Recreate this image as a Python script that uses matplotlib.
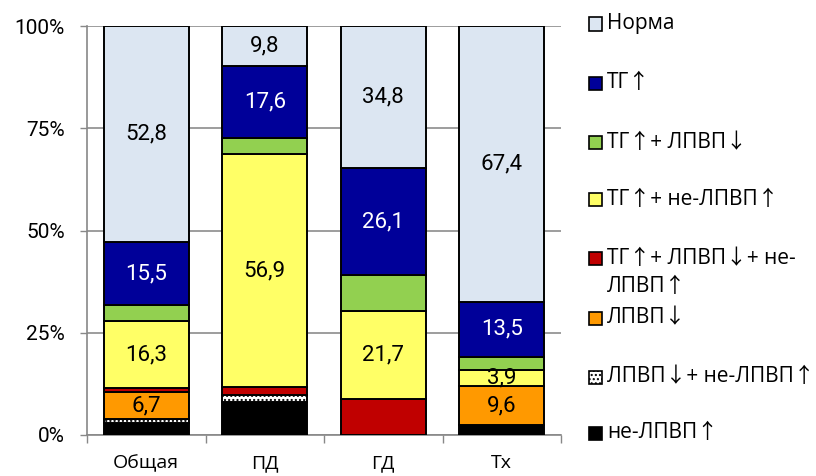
import numpy as np
from matplotlib import pyplot as plt
from matplotlib.patches import Rectangle

plt.rcParams['font.family'] = ['Roboto', 'DejaVu Sans']

categories = ["Общая", "ПД", "ГД", "Тх"]

# series from bottom to top, values in %
series_names = ["не-ЛПВП↑", "ЛПВП↓+ не-ЛПВП↑", "ЛПВП↓", "ТГ↑+ ЛПВП↓+ не-\nЛПВП↑",
                "ТГ↑+ не-ЛПВП↑", "ТГ↑+ ЛПВП↓", "ТГ↑", "Норма"]
ne_lpvp = [3.0, 8.0, 0.0, 2.4]
lpvp_ne_lpvp = [0.8, 1.7, 0.0, 0.0]
lpvp = [6.7, 0.0, 0.0, 9.6]
tg_lpvp_ne = [1.0, 2.0, 8.7, 0.0]
tg_ne_lpvp = [16.3, 56.9, 21.7, 3.9]
tg_lpvp = [3.9, 4.0, 8.7, 3.2]
tg = [15.5, 17.6, 26.1, 13.5]
norma = [52.8, 9.8, 34.8, 67.4]

series_values = [ne_lpvp, lpvp_ne_lpvp, lpvp, tg_lpvp_ne, tg_ne_lpvp, tg_lpvp, tg, norma]
colors = ['#000000', '#FFFFFF', '#FF9900', '#C00000', '#FFFF66', '#92D050', '#000099', '#DCE6F2']
hatches = [None, '....', None, None, None, None, None, None]
labelled = [False, False, True, False, True, False, True, True]
label_colors = ['k', 'k', 'k', 'k', 'k', 'k', 'white', 'k']

fig = plt.figure(figsize=(8.16, 4.76), dpi=100)
ax = fig.add_axes([87 / 816, 41 / 476, 474 / 816, 409 / 476])

x = np.arange(len(categories))
bottom = np.zeros(len(categories))
for vals, col, hat, lab, lcol in zip(series_values, colors, hatches, labelled, label_colors):
    vals = np.array(vals)
    ax.bar(x, vals, width=0.72, bottom=bottom, color=col, edgecolor='black',
           linewidth=1.4, hatch=hat, zorder=3)
    if lab:
        for xi, b, v in zip(x, bottom, vals):
            if v > 0:
                ax.text(xi, b + v / 2, f"{v:.1f}".replace('.', ','), ha='center', va='center',
                        fontsize=16, color=lcol, zorder=4)
    bottom += vals

ax.set_xlim(-0.5, 3.5)
ax.set_ylim(0, 100)
ax.set_yticks([0, 25, 50, 75, 100])
ax.set_yticklabels(["0%", "25%", "50%", "75%", "100%"], fontsize=15)
ax.set_xticks(x)
ax.set_xticklabels(categories, fontsize=14, family=['Open Sans', 'DejaVu Sans'])
ax.set_xticks(np.arange(-0.5, 4, 1), minor=True)
ax.tick_params(axis='x', which='major', length=0, pad=14)
ax.tick_params(axis='x', which='minor', length=6, direction='out', color='#888888', width=1)
ax.tick_params(axis='y', length=5, direction='out', color='#888888', width=1, pad=11)
ax.grid(axis='y', color='#8C8C8C', linewidth=1.2, zorder=0)
for side in ['top', 'right']:
    ax.spines[side].set_visible(False)
for side in ['left', 'bottom']:
    ax.spines[side].set_color('#888888')
    ax.spines[side].set_linewidth(1.2)

# legend on the right, top entry first
legend_y = [24, 83, 142, 199, 258, 318, 377, 433]
legend_names = series_names[::-1]
legend_colors = colors[::-1]
legend_hatches = hatches[::-1]
for yy, name, col, hat in zip(legend_y, legend_names, legend_colors, legend_hatches):
    yf = 1 - yy / 476
    rect = Rectangle((589 / 816, yf - 6.5 / 476), 13 / 816, 13 / 476, transform=fig.transFigure,
                     facecolor=col, edgecolor='black', linewidth=1.2, hatch=hat)
    fig.patches.append(rect)
    # wrapped entries get one text per line, 29 px apart
    for i, line in enumerate(name.split('\n')):
        fig.text(607 / 816, yf - i * 29 / 476, line, ha='left', va='center', fontsize=15,
                 family=['Open Sans', 'Noto Sans CJK SC', 'DejaVu Sans'],
                 transform=fig.transFigure)

fig.savefig("out.png", dpi=100)
